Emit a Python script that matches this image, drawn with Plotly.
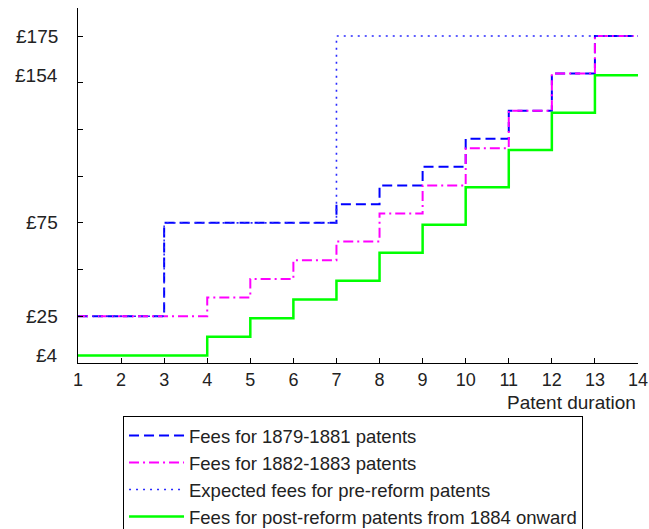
import plotly.graph_objects as go

# Patent duration (years)
years = list(range(1, 15))

# Cumulative fees (£) by year; last value repeats to close the final step
fees_1879_1881 = [25, 25, 75, 75, 75, 75, 85, 95, 105, 120, 135, 155, 175, 175]
fees_1882_1883 = [25, 25, 25, 35, 45, 55, 65, 80, 95, 115, 135, 155, 175, 175]
fees_expected_pre = [25, 25, 75, 75, 75, 75, 175, 175, 175, 175, 175, 175, 175, 175]
fees_post_1884 = [4, 4, 4, 14, 24, 34, 44, 59, 74, 94, 114, 134, 154, 154]

series_names = [
    "Fees for 1879-1881 patents",
    "Fees for 1882-1883 patents",
    "Expected fees for pre-reform patents",
    "Fees for post-reform patents from 1884 onward",
]

y_tick_marks = [0, 25, 50, 75, 100, 125, 150, 175]
y_label_vals = [4, 25, 75, 154, 175]
y_label_text = ["£4", "£25", "£75", "£154", "£175"]

FONT = "Liberation Sans, Arial, sans-serif"
TXT = "#222222"

fig = go.Figure()
styles = [
    dict(color="#0000ff", width=2, dash="10px,5px"),
    dict(color="#ff00ff", width=2, dash="10px,4px,2px,4px"),
    dict(color="#2a2aff", width=1.6, dash="2px,5px"),
    dict(color="#00ff00", width=2.5, dash="solid"),
]
for name, ys, st, g in zip(series_names,
                           [fees_1879_1881, fees_1882_1883, fees_expected_pre, fees_post_1884],
                           styles, range(4)):
    fig.add_trace(go.Scatter(x=years, y=ys, mode="lines", name=name,
                             line=dict(shape="hv", **st), legendgroup=f"g{g}"))

for v, t in zip(y_label_vals, y_label_text):
    fig.add_annotation(x=0, xref="paper", y=v, yref="y", text=t, showarrow=False,
                       xanchor="right", yanchor="middle", xshift=-18,
                       font=dict(family=FONT, size=19, color=TXT))

fig.add_annotation(x=1, xref="paper", y=-0.112, yref="paper", text="Patent duration",
                   showarrow=False, xanchor="right", yanchor="middle", xshift=0,
                   font=dict(family=FONT, size=19, color=TXT))

fig.update_layout(
    width=649, height=529,
    margin=dict(l=78, r=11, t=8, b=166, autoexpand=False),
    paper_bgcolor="white", plot_bgcolor="white",
    font=dict(family=FONT, size=18, color=TXT),
    showlegend=True,
    legend=dict(x=0.0804, y=-0.149, xanchor="left", yanchor="top",
                bordercolor="black", borderwidth=1, bgcolor="white",
                font=dict(family=FONT, size=18.5, color=TXT),
                tracegroupgap=0, itemwidth=55),
    xaxis=dict(range=[1, 14], tickvals=years, ticks="inside", ticklen=5,
               tickcolor="black", showline=True, linecolor="black", linewidth=1,
               showgrid=False, zeroline=False, automargin=False,
               tickfont=dict(family=FONT, size=18, color=TXT)),
    yaxis=dict(range=[0, 190], tickvals=y_tick_marks, showticklabels=False,
               ticks="inside", ticklen=5, tickcolor="black", showline=True,
               linecolor="black", linewidth=1, showgrid=False, zeroline=False,
               automargin=False),
)

fig.write_html(
    "out.html",
    config={"displayModeBar": False},
    post_script="document.body.style.margin='0';document.body.style.overflow='hidden';",
)
